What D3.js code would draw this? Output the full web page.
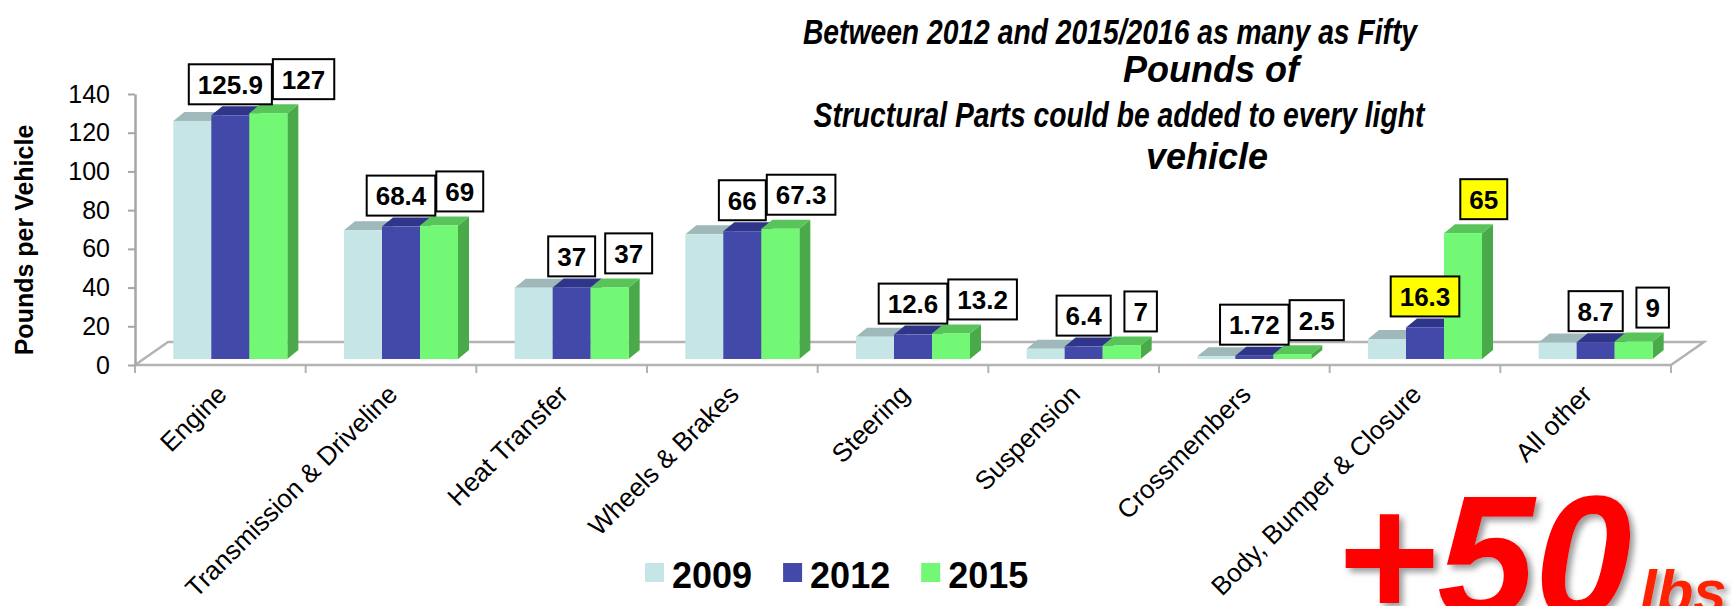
<!DOCTYPE html>
<html lang="en">
<head>
<meta charset="UTF-8" />
<title>Pounds per Vehicle</title>
<script src="https://cdn.jsdelivr.net/npm/d3@7"></script>
<style>
  body { margin: 0; background: #fff; }
  svg { display: block; font-family: "Liberation Sans", Arial, sans-serif; }
</style>
</head>
<body>
<div id="chart"></div>
<script>
// ---- data ----
const categories = ["Engine", "Transmission & Driveline", "Heat Transfer", "Wheels & Brakes",
  "Steering", "Suspension", "Crossmembers", "Body, Bumper & Closure", "All other"];
const years = ["2009", "2012", "2015"];
const values2009 = [123, 66.5, 36.8, 64.4, 11.5, 5.3, 1.4, 10.3, 8.5];
const values2012 = [125.9, 68.4, 37, 66, 12.6, 6.4, 1.72, 16.3, 8.7];
const values2015 = [127, 69, 37, 67.3, 13.2, 7, 2.5, 65, 9];
const highlighted = ["Body, Bumper & Closure"];
const yTicks = [0, 20, 40, 60, 80, 100, 120, 140];
const titleLines = ["Between 2012 and 2015/2016 as many as Fifty", "Pounds of",
  "Structural Parts could be added to every light", "vehicle"];

const series = [values2009, values2012, values2015];
const colors = {
  "2009": {front: "#c5e5e7", top: "#9fb8ba", side: "#9db7b9"},
  "2012": {front: "#4349a8", top: "#2f3589", side: "#2f3589"},
  "2015": {front: "#72f874", top: "#58c45a", side: "#4aaa4a"}
};

const w = 1732, h = 606;
const svg = d3.select("#chart").append("svg").attr("width", w).attr("height", h);

const defs = svg.append("defs");
defs.append("filter").attr("id", "shadow").attr("x", "-20%").attr("y", "-20%")
  .attr("width", "140%").attr("height", "140%")
  .append("feDropShadow").attr("dx", 4).attr("dy", 4).attr("stdDeviation", 3)
  .attr("flood-color", "#777").attr("flood-opacity", 0.75);

// scales
const x0 = d3.scaleBand().domain(categories).range([135, 1671]);
const x1 = d3.scaleBand().domain(years).range([0, 114]);
const y = d3.scaleLinear().domain([0, 140]).range([365, 94]);

const depth = {dx: 11, dy: -9};     // bar depth
const floorD = {dx: 33, dy: -23};   // floor depth
const inset = {dx: 10, dy: -6};     // bars stand inside the floor

// floor
const fx0 = x0.range()[0], fx1 = x0.range()[1], fy = y(0);
svg.append("path")
  .attr("d", `M${fx0},${fy} L${fx0 + floorD.dx},${fy + floorD.dy} L${fx1 + floorD.dx},${fy + floorD.dy} L${fx1},${fy} Z`)
  .attr("fill", "#fff").attr("stroke", "#b3b3b3").attr("stroke-width", 2.5);

// x ticks at category boundaries
const bounds = categories.map(c => x0(c)).concat([fx1]);
svg.selectAll(".xtick").data(bounds).enter().append("line")
  .attr("x1", d => d).attr("x2", d => d).attr("y1", fy).attr("y2", fy + 8)
  .attr("stroke", "#b3b3b3").attr("stroke-width", 2);

// y axis
const yAxis = svg.append("g").attr("transform", "translate(135,0)")
  .call(d3.axisLeft(y).tickValues(yTicks).tickSize(7).tickSizeOuter(0).tickPadding(18));
yAxis.select(".domain").attr("stroke", "#a6a6a6").attr("stroke-width", 2.5);
yAxis.selectAll(".tick line").attr("stroke", "#a6a6a6").attr("stroke-width", 2);
yAxis.selectAll(".tick text").attr("font-size", 25).attr("fill", "#000")
  .attr("font-family", "Liberation Sans, Arial, sans-serif");

svg.append("text")
  .attr("transform", "translate(33,240) rotate(-90)")
  .attr("text-anchor", "middle").attr("font-size", 25).attr("font-weight", "bold")
  .text("Pounds per Vehicle");

// bars
const bars = [];
categories.forEach((c, i) => {
  years.forEach((yr, k) => bars.push({c: c, yr: yr, k: k, v: series[k][i]}));
});
const barX = d => x0(d.c) + (x0.bandwidth() - x1.range()[1]) / 2 + inset.dx + x1(d.yr);
const barTop = d => y(d.v) + inset.dy;
const base = y(0) + inset.dy;
const bw = x1.bandwidth();

const g = svg.selectAll(".bar").data(bars).enter().append("g").attr("class", "bar");
g.append("path")
  .attr("d", d => {
    const x = barX(d) + bw, t = barTop(d);
    return `M${x},${t} L${x + depth.dx},${t + depth.dy} L${x + depth.dx},${base + depth.dy} L${x},${base} Z`;
  })
  .attr("fill", d => colors[d.yr].side);
g.append("path")
  .attr("d", d => {
    const x = barX(d), t = barTop(d);
    return `M${x},${t} L${x + depth.dx},${t + depth.dy} L${x + bw + depth.dx},${t + depth.dy} L${x + bw},${t} Z`;
  })
  .attr("fill", d => colors[d.yr].top);
g.append("rect")
  .attr("x", d => barX(d)).attr("y", d => barTop(d))
  .attr("width", bw).attr("height", d => base - barTop(d))
  .attr("fill", d => colors[d.yr].front);

// data labels for 2012 and 2015
const labelFont = 26;
categories.forEach((c, i) => {
  let prevRight = -Infinity;
  [1, 2].forEach(k => {
    const d = {c: c, yr: years[k], v: series[k][i]};
    const lab = svg.append("g");
    const txt = lab.append("text").attr("font-size", labelFont).attr("font-weight", "bold")
      .attr("text-anchor", "middle").text(String(series[k][i]));
    const tw = txt.node().getComputedTextLength();
    const bwid = tw + 18, bh = 40;
    let cx = barX(d) + bw / 2 + (k === 2 ? 19 : 0);
    if (cx - bwid / 2 < prevRight + 1) cx = prevRight + 1 + bwid / 2;
    const bottom = barTop(d) - (k === 2 ? 14 : 11);
    lab.insert("rect", "text")
      .attr("x", cx - bwid / 2).attr("y", bottom - bh).attr("width", bwid).attr("height", bh)
      .attr("fill", highlighted.includes(c) ? "#ffff00" : "#fff")
      .attr("stroke", "#000").attr("stroke-width", 2);
    txt.attr("x", cx).attr("y", bottom - bh / 2 + labelFont * 0.36);
    prevRight = cx + bwid / 2;
  });
});

// category labels
svg.selectAll(".cat").data(categories).enter().append("text")
  .attr("transform", d => `translate(${x0(d) + x0.bandwidth() / 2 + 8},396) rotate(-45)`)
  .attr("text-anchor", "end").attr("font-size", 26).text(d => d);

// legend
let lx = 645;
years.forEach(yr => {
  svg.append("rect").attr("x", lx).attr("y", 563).attr("width", 19).attr("height", 19)
    .attr("fill", colors[yr].front);
  const t = svg.append("text").attr("x", lx + 27).attr("y", 588)
    .attr("font-size", 36).attr("font-weight", "bold").text(yr);
  lx += 27 + t.node().getComputedTextLength() + 31;
});

// title: long lines are squeezed, short lines keep normal width
const titleFamily = "'Liberation Sans', Arial, sans-serif";
const titleCenters = [1110, 1211, 1119, 1207];
const titleBase = [44, 82, 127, 169];
const titleSqueeze = [0.785, 1, 0.785, 1];
svg.selectAll(".title").data(titleLines).enter().append("text")
  .attr("transform", (d, i) => `translate(${titleCenters[i]},${titleBase[i]}) scale(${titleSqueeze[i]},1)`)
  .attr("text-anchor", "middle")
  .attr("font-family", titleFamily)
  .attr("font-size", 36).attr("font-weight", "bold").attr("font-style", "italic")
  .text(d => d);

// +50 lbs
svg.append("text").attr("x", 1335).attr("y", 617)
  .attr("font-size", 175).attr("font-weight", "bold").attr("font-style", "italic")
  .attr("fill", "#ff0000").attr("filter", "url(#shadow)").text("+50");
svg.append("text").attr("x", 1640).attr("y", 612)
  .attr("font-size", 60).attr("font-weight", "bold").attr("font-style", "italic")
  .attr("fill", "#ff2200").attr("filter", "url(#shadow)").text("lbs");
</script>
</body>
</html>
